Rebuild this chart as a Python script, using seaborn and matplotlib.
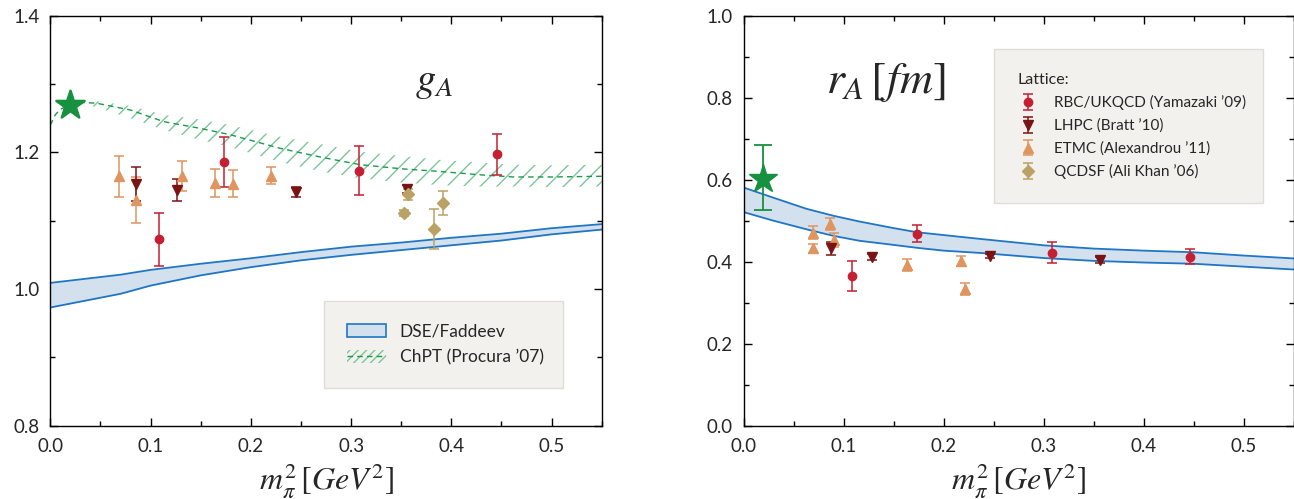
import matplotlib
matplotlib.use("Agg")
import matplotlib.pyplot as plt
import seaborn as sns
from matplotlib.patches import Patch
from matplotlib.lines import Line2D
from matplotlib.ticker import MultipleLocator

# ---------------- g_A panel ----------------
# DSE/Faddeev band
dse_g_x = [0.0, 0.035, 0.07, 0.1, 0.15, 0.2, 0.25, 0.3, 0.35, 0.4, 0.45, 0.5, 0.55]
dse_g_lo = [0.973, 0.983, 0.993, 1.005, 1.020, 1.032, 1.042, 1.050, 1.057, 1.064, 1.071, 1.080, 1.087]
dse_g_hi = [1.009, 1.015, 1.021, 1.028, 1.037, 1.045, 1.054, 1.062, 1.068, 1.075, 1.081, 1.089, 1.095]

# ChPT (Procura '07) band
chpt_x = [0.0, 0.005, 0.01, 0.02, 0.03, 0.046, 0.08, 0.113, 0.15, 0.179, 0.229,
          0.27, 0.309, 0.35, 0.389, 0.43, 0.462, 0.5, 0.55]
chpt_mid = [1.240, 1.255, 1.263, 1.270, 1.273, 1.272, 1.262, 1.245, 1.235, 1.226, 1.206,
            1.193, 1.182, 1.176, 1.172, 1.167, 1.164, 1.164, 1.165]
chpt_lo = [1.240, 1.255, 1.263, 1.270, 1.272, 1.266, 1.250, 1.233, 1.218, 1.208, 1.186,
           1.172, 1.162, 1.156, 1.152, 1.150, 1.150, 1.149, 1.150]
chpt_hi = [1.240, 1.255, 1.263, 1.270, 1.274, 1.275, 1.268, 1.255, 1.248, 1.240, 1.223,
           1.212, 1.201, 1.195, 1.189, 1.185, 1.182, 1.181, 1.182]

# experiment (star)
exp_g_x = [0.0195]
exp_g_y = [1.27]

# lattice points for g_A
rbc_g_x = [0.1085, 0.173, 0.308, 0.446]
rbc_g_y = [1.073, 1.186, 1.173, 1.197]
rbc_g_e = [0.039, 0.036, 0.036, 0.030]

lhpc_g_x = [0.0855, 0.126, 0.245, 0.3557]
lhpc_g_y = [1.154, 1.145, 1.142, 1.146]
lhpc_g_e = [0.025, 0.016, 0.007, 0.006]

etmc_g_x = [0.069, 0.0855, 0.131, 0.164, 0.182, 0.220]
etmc_g_y = [1.165, 1.130, 1.165, 1.155, 1.154, 1.166]
etmc_g_e = [0.030, 0.034, 0.022, 0.021, 0.020, 0.013]

qcdsf_g_x = [0.3527, 0.3567, 0.383, 0.392]
qcdsf_g_y = [1.111, 1.139, 1.088, 1.126]
qcdsf_g_e = [0.004, 0.008, 0.029, 0.017]

# ---------------- r_A panel ----------------
dse_r_x = [0.0, 0.03, 0.063, 0.09, 0.116, 0.15, 0.173, 0.2, 0.239, 0.3, 0.35, 0.4, 0.45, 0.5, 0.55]
dse_r_lo = [0.521, 0.500, 0.479, 0.463, 0.451, 0.441, 0.434, 0.427, 0.421, 0.409, 0.402, 0.398, 0.395, 0.388, 0.381]
dse_r_hi = [0.581, 0.556, 0.529, 0.512, 0.498, 0.482, 0.472, 0.465, 0.455, 0.440, 0.432, 0.427, 0.423, 0.415, 0.408]

exp_r_x = [0.0194]
exp_r_y = [0.601]
exp_r_elo = [0.075]
exp_r_ehi = [0.083]

rbc_r_x = [0.1088, 0.1737, 0.3086, 0.4467]
rbc_r_y = [0.365, 0.468, 0.422, 0.412]
rbc_r_e = [0.036, 0.021, 0.025, 0.018]

lhpc_r_x = [0.087, 0.128, 0.246, 0.3565]
lhpc_r_y = [0.433, 0.412, 0.414, 0.404]
lhpc_r_e = [0.016, 0.008, 0.006, 0.007]

etmc_r_x = [0.069, 0.0696, 0.0862, 0.090, 0.1637, 0.2175, 0.2215]
etmc_r_y = [0.471, 0.433, 0.492, 0.453, 0.392, 0.402, 0.333]
etmc_r_e = [0.016, 0.011, 0.014, 0.016, 0.015, 0.012, 0.015]

# colours
c_rbc = "#c41f33"
c_lhpc = "#7a1414"
c_etmc = "#df9560"
c_qcdsf = "#b9a263"
c_star = "#15913f"
c_dse = "#1f76c4"
c_fill = "#d3e0ee"
c_chpt = "#1d9a4c"
c_hatch = "#7cc69a"

sns.set_style("ticks")
plt.rcParams["font.family"] = ["Lato", "DejaVu Sans"]
plt.rcParams["mathtext.fontset"] = "stix"
plt.rcParams["hatch.linewidth"] = 1.0
plt.rcParams["axes.linewidth"] = 1.0

fig = plt.figure(figsize=(12.94, 4.99), dpi=100)
ax1 = fig.add_axes([50.3 / 1294, 73.3 / 499, 551.4 / 1294, 410 / 499])
ax2 = fig.add_axes([743.5 / 1294, 73.3 / 499, 550 / 1294, 410 / 499])

eb_kw = dict(ls="none", elinewidth=1.1, capsize=3.6, capthick=1.1)


def lattice(ax, x, y, e, color, marker, ms):
    return ax.errorbar(x, y, yerr=e, fmt=marker, color=color, ms=ms, **eb_kw)


# ---- left: g_A
ax1.fill_between(dse_g_x, dse_g_lo, dse_g_hi, color=c_fill, lw=0, zorder=1)
sns.lineplot(x=dse_g_x, y=dse_g_lo, ax=ax1, color=c_dse, lw=1.3, zorder=2)
sns.lineplot(x=dse_g_x, y=dse_g_hi, ax=ax1, color=c_dse, lw=1.3, zorder=2)
ax1.fill_between(chpt_x, chpt_lo, chpt_hi, facecolor="none", edgecolor=c_hatch,
                 hatch="//", lw=0, zorder=1)
sns.lineplot(x=chpt_x, y=chpt_mid, ax=ax1, color=c_chpt, lw=1.0,
             linestyle=(0, (4, 3)), zorder=2)

lattice(ax1, etmc_g_x, etmc_g_y, etmc_g_e, c_etmc, "^", 7)
lattice(ax1, lhpc_g_x, lhpc_g_y, lhpc_g_e, c_lhpc, "v", 7)
lattice(ax1, rbc_g_x, rbc_g_y, rbc_g_e, c_rbc, "o", 6)
qcdsf_h = lattice(ax1, qcdsf_g_x, qcdsf_g_y, qcdsf_g_e, c_qcdsf, "D", 6.3)
sns.scatterplot(x=exp_g_x, y=exp_g_y, ax=ax1, marker="*", s=460, color=c_star,
                edgecolor=c_star, zorder=5)

ax1.set_xlim(0, 0.55)
ax1.set_ylim(0.8, 1.4)
ax1.yaxis.set_major_locator(MultipleLocator(0.2))
ax1.yaxis.set_minor_locator(MultipleLocator(0.1))
ax1.text(0.696, 0.836, r"$g_A$", transform=ax1.transAxes, fontsize=29,
         ha="center", va="center")

dse_handle = Patch(facecolor=c_fill, edgecolor=c_dse, lw=1.2)
chpt_handle = (Patch(facecolor="none", edgecolor=c_hatch, hatch="////", lw=0),
               Line2D([], [], color=c_chpt, lw=1.0, ls=(0, (4, 3))))
leg1 = ax1.legend([dse_handle, chpt_handle], ["DSE/Faddeev", "ChPT (Procura ’07)"],
                  loc="lower left", bbox_to_anchor=(0.497, 0.092, 0.432, 0.217),
                  mode="expand", borderaxespad=0, fontsize=12.5, frameon=True,
                  fancybox=False, framealpha=1, facecolor="#f2f1ee",
                  edgecolor="#dedddA", borderpad=1.3, labelspacing=0.55,
                  handlelength=2.25, handleheight=0.75, handletextpad=0.8)
leg1.get_frame().set_linewidth(1.0)

# ---- right: r_A
ax2.fill_between(dse_r_x, dse_r_lo, dse_r_hi, color=c_fill, lw=0, zorder=1)
sns.lineplot(x=dse_r_x, y=dse_r_lo, ax=ax2, color=c_dse, lw=1.3, zorder=2)
sns.lineplot(x=dse_r_x, y=dse_r_hi, ax=ax2, color=c_dse, lw=1.3, zorder=2)

h_etmc = lattice(ax2, etmc_r_x, etmc_r_y, etmc_r_e, c_etmc, "^", 7)
h_lhpc = lattice(ax2, lhpc_r_x, lhpc_r_y, lhpc_r_e, c_lhpc, "v", 7)
h_rbc = lattice(ax2, rbc_r_x, rbc_r_y, rbc_r_e, c_rbc, "o", 6)
ax2.errorbar(exp_r_x, exp_r_y, yerr=[exp_r_elo, exp_r_ehi], fmt="*", color=c_star,
             ms=21, elinewidth=1.3, capsize=6.5, capthick=1.3, zorder=5)

ax2.set_xlim(0, 0.55)
ax2.set_ylim(0.0, 1.0)
ax2.yaxis.set_major_locator(MultipleLocator(0.2))
ax2.yaxis.set_minor_locator(MultipleLocator(0.1))
ax2.text(0.2586, 0.838, r"$r_A\,[fm]$", transform=ax2.transAxes, fontsize=33,
         ha="center", va="center")

leg2 = ax2.legend([h_rbc, h_lhpc, h_etmc, qcdsf_h],
                  ["RBC/UKQCD (Yamazaki ’09)", "LHPC (Bratt ’10)",
                   "ETMC (Alexandrou ’11)", "QCDSF (Ali Khan ’06)"],
                  title="Lattice:", title_fontsize=11.5, alignment="left",
                  loc="upper left", bbox_to_anchor=(0.4546, 0.918, 0.49, 0.0),
                  mode="expand", borderaxespad=0, fontsize=11, frameon=True,
                  fancybox=False, framealpha=1, facecolor="#f2f1ee",
                  edgecolor="#dedddA", borderpad=1.55, labelspacing=0.55,
                  handlelength=1.4, handletextpad=1.0)
leg2.get_frame().set_linewidth(1.0)

for ax in (ax1, ax2):
    ax.xaxis.set_major_locator(MultipleLocator(0.1))
    ax.xaxis.set_minor_locator(MultipleLocator(0.05))
    ax.tick_params(which="both", direction="in", top=True, right=True,
                   width=1.0, color="black")
    ax.tick_params(which="major", length=6, labelsize=13.5)
    ax.tick_params(axis="y", which="major", pad=8)
    ax.tick_params(axis="x", which="major", pad=9)
    ax.tick_params(which="minor", length=3.6)
    ax.set_xlabel(r"$m_\pi^2\,[GeV^2]$", fontsize=23, labelpad=5)
    ax.set_ylabel("")
    for s in ax.spines.values():
        s.set_color("black")

fig.savefig("out.png", dpi=100)
